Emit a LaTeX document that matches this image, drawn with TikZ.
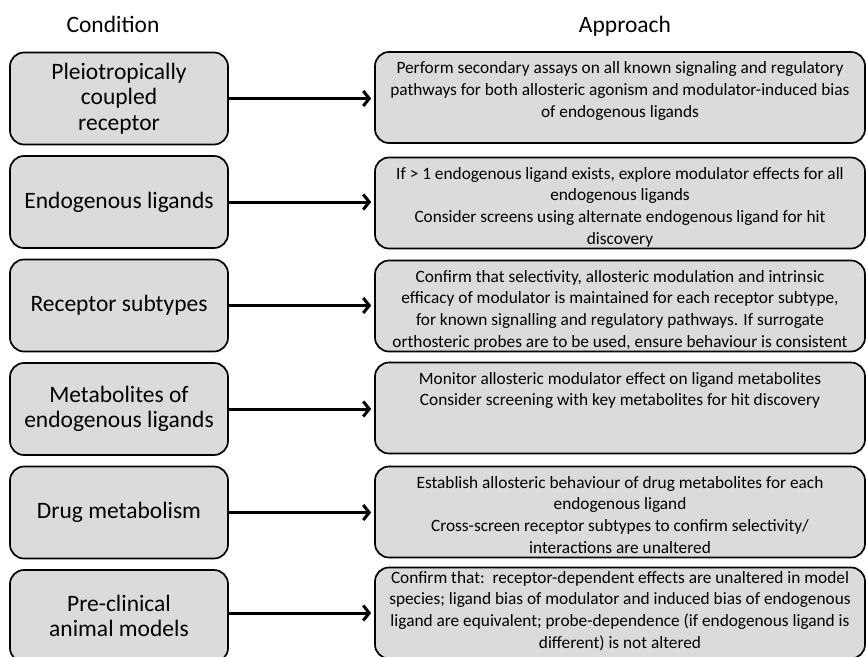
\documentclass[tikz,border=0pt]{standalone}
\usepackage{fontspec}
\setmainfont{Carlito}
\usetikzlibrary{arrows.meta}

\newcommand{\approachtext}[2][0pt]{\parbox[c][78pt][t]{490pt}{\centering\vspace*{#1}\strut #2}}

\begin{document}
\begin{tikzpicture}[x=1pt,y=-1pt,
    condbox/.style={draw,line width=1.7pt,fill=black!14,rounded corners=14pt,
      minimum width=218pt,minimum height=92pt,align=center,
      font=\fontsize{23.5}{25.5}\selectfont},
    apbox/.style={draw,line width=1.7pt,fill=black!14,rounded corners=14pt,
      minimum width=490pt,minimum height=91pt,inner sep=0pt,
      font=\fontsize{17.3}{21.7}\selectfont},
    head/.style={font=\fontsize{23.5}{26}\selectfont,anchor=base},
    link/.style={line width=3pt,-{Straight Barb[length=6pt,width=15pt]},shorten >=3pt}]

    \useasboundingbox (0,0) rectangle (866,656);

    \node[head] (condhead) at (113,32) {Condition};
    \node[head] (apphead) at (625,32) {Approach};

    \node[condbox] (c1) at (119,98.5) {Pleiotropically\\coupled\\receptor};
    \node[condbox] (c2) at (119,202) {Endogenous ligands};
    \node[condbox] (c3) at (119,305.5) {Receptor subtypes};
    \node[condbox] (c4) at (119,409) {Metabolites of\\endogenous ligands};
    \node[condbox] (c5) at (119,512.5) {Drug metabolism};
    \node[condbox] (c6) at (119,616) {Pre-clinical\\animal models};

    \node[apbox] (a1) at (620,97.5) {\approachtext{Perform secondary assays on all known signaling and regulatory\\
        pathways for both allosteric agonism and modulator-induced bias\\
        of endogenous ligands}};
    \node[apbox] (a2) at (620,203) {\approachtext{If > 1 endogenous ligand exists, explore modulator effects for all\\
        endogenous ligands\\
        Consider screens using alternate endogenous ligand for hit\\
        discovery}};
    \node[apbox] (a3) at (620,306) {\approachtext{Confirm that selectivity, allosteric modulation and intrinsic\\
        efficacy of modulator is maintained for each receptor subtype,\\
        for known signalling and regulatory pathways. If surrogate\\
        orthosteric probes are to be used, ensure behaviour is consistent}};
    \node[apbox] (a4) at (620,408) {\approachtext{Monitor allosteric modulator effect on ligand metabolites\\
        Consider screening with key metabolites for hit discovery}};
    \node[apbox] (a5) at (620,512) {\approachtext{Establish allosteric behaviour of drug metabolites for each\\
        endogenous ligand\\
        Cross-screen receptor subtypes to confirm selectivity/\\
        interactions are unaltered}};
    \node[apbox] (a6) at (620,613) {\approachtext[-6pt]{Confirm that:\ \ receptor-dependent effects are unaltered in model\\
        species; ligand bias of modulator and induced bias of endogenous\\
        ligand are equivalent; probe-dependence (if endogenous ligand is\\
        different) is not altered}};

    \draw[link] (c1) -- (a1.west|-c1);
    \draw[link] (c2) -- (a2.west|-c2);
    \draw[link] (c3) -- (a3.west|-c3);
    \draw[link] (c4) -- (a4.west|-c4);
    \draw[link] (c5) -- (a5.west|-c5);
    \draw[link] (c6.east|-a6) -- (a6);
\end{tikzpicture}
\end{document}
